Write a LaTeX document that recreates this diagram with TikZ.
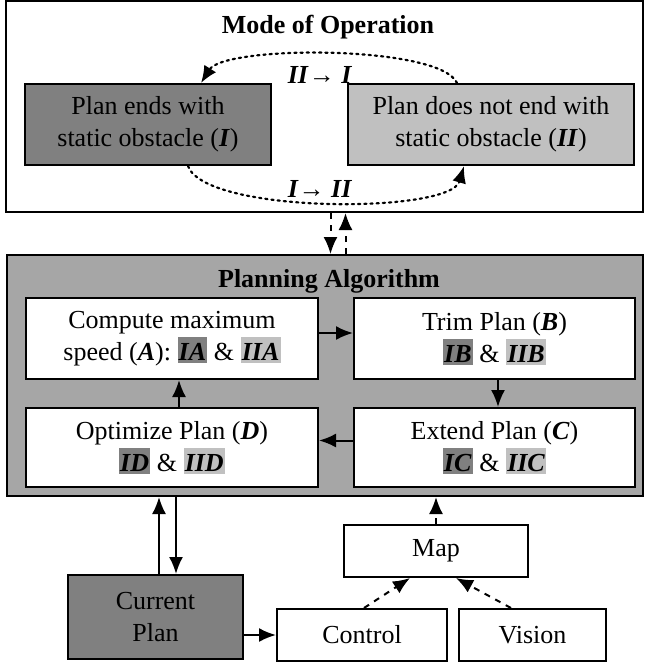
\documentclass[tikz,border=0pt]{standalone}
\usepackage{fontspec}
\setmainfont{Liberation Serif}
\usetikzlibrary{arrows.meta}
\definecolor{darkgr}{RGB}{128,128,128}
\definecolor{lightgr}{RGB}{192,192,192}
\definecolor{plangr}{RGB}{166,166,166}
\newcommand{\bi}[1]{\textbf{\textit{#1}}}
\newcommand{\hlone}[1]{{\setlength{\fboxsep}{0pt}\colorbox{darkgr}{\kern0.6pt\rule[-1.5pt]{0pt}{13pt}\bi{#1}\kern0.6pt}}}
\newcommand{\hltwo}[1]{{\setlength{\fboxsep}{0pt}\colorbox{lightgr}{\kern0.6pt\rule[-1.5pt]{0pt}{13pt}\bi{#1}\kern0.6pt}}}
\begin{document}
\begin{tikzpicture}[x=0.5pt,y=-0.5pt,>={Latex[length=8.5pt,width=7pt]},line width=1pt,
  font=\fontsize{13}{16}\selectfont,
  box/.style={draw,line width=1pt,align=center,inner sep=0pt},
  modearc/.style={dotted,line width=1.1pt,line cap=round}]
\useasboundingbox (0,0) rectangle (645,666);
\node (mode) at (324.5,106.5) [box,minimum width=318.5pt,minimum height=105.5pt] {};
\node (plan) at (325,375.5) [box,fill=plangr,minimum width=318pt,minimum height=120.5pt] {};
\node (modetitle) at (328,27) {\textbf{Mode of Operation}};
\node (plantitle) at (329,281) {\textbf{Planning Algorithm}};
\node (I) at (148,124.5) [box,fill=darkgr,minimum width=123pt,minimum height=40.5pt]
  {Plan ends with\\static obstacle (\bi{I})};
\node (II) at (491,124.5) [box,fill=lightgr,minimum width=143pt,minimum height=40.5pt]
  {Plan does not end with\\static obstacle (\bi{II})};
\node (tII) at (320,75) [inner sep=0pt] {\bi{II}→ \bi{I}};
\node (tI) at (320,189) [inner sep=0pt] {\bi{I}→ \bi{II}};
\coordinate (a2top) at ([xshift=55pt]II.north west);
\coordinate (a1top) at ([xshift=88.5pt]I.north west);
\coordinate (a1bot) at ([xshift=82pt]I.south west);
\coordinate (a2bot) at ([xshift=58.5pt]II.south west);
\draw[modearc,->] (a2top) .. controls (440,45) and (225,45) .. (a1top);
\draw[modearc,->] (a1bot) .. controls (205,214) and (450,214) .. (a2bot);
\coordinate (m1) at ([xshift=3pt]mode.south);
\coordinate (m2) at ([xshift=10.5pt]mode.south);
\draw[dashed,->] (m1) -- (m1 |- plan.north);
\draw[dashed,->] (plan.north -| m2) -- (m2);
\node (A) at (172,338.5) [box,fill=white,minimum width=146pt,minimum height=40.5pt]
  {Compute maximum\\speed (\bi{A}): \hlone{IA} \& \hltwo{IIA}};
\node (B) at (494.5,338.5) [box,fill=white,minimum width=140.5pt,minimum height=40.5pt]
  {Trim Plan (\bi{B})\\\hlone{IB} \& \hltwo{IIB}};
\node (D) at (172,447.5) [box,fill=white,minimum width=146pt,minimum height=39.5pt]
  {Optimize Plan (\bi{D})\\\hlone{ID} \& \hltwo{IID}};
\node (C) at (494.5,447.5) [box,fill=white,minimum width=140.5pt,minimum height=39.5pt]
  {Extend Plan (\bi{C})\\\hlone{IC} \& \hltwo{IIC}};
\draw[->] ([yshift=2.75pt]A.east) -- ([yshift=2.75pt]B.west);
\draw[->] ([xshift=1.75pt]B.south) -- ([xshift=1.75pt]C.north);
\draw[->] ([yshift=3.5pt]C.west) -- ([yshift=3.5pt]D.east);
\draw[->] ([xshift=3.5pt]D.north) -- ([xshift=3.5pt]A.south);
\node (cur) at (155.5,617) [box,fill=darkgr,minimum width=87.5pt,minimum height=42pt] {Current\\Plan};
\node (map) at (436,551) [box,minimum width=92pt,minimum height=26pt] {Map};
\node (ctrl) at (362,635) [box,minimum width=85pt,minimum height=26pt] {Control};
\node (vis) at (532.5,635) [box,minimum width=73.5pt,minimum height=26pt] {Vision};
\coordinate (cu1) at ([xshift=46pt]cur.north west);
\coordinate (cu2) at ([xshift=54.5pt]cur.north west);
\draw[->] (cu1) -- (cu1 |- plan.south);
\draw[->] (plan.south -| cu2) -- (cu2);
\draw[->] (cur.east |- ctrl.west) -- (ctrl.west);
\draw[dashed,->] (map.north) -- (map.north |- plan.south);
\draw[dashed,->] ([xshift=44pt]ctrl.north west) -- ([xshift=33.5pt]map.south west);
\draw[dashed,->] ([xshift=26.5pt]vis.north west) -- ([xshift=56.5pt]map.south west);
\end{tikzpicture}
\end{document}
